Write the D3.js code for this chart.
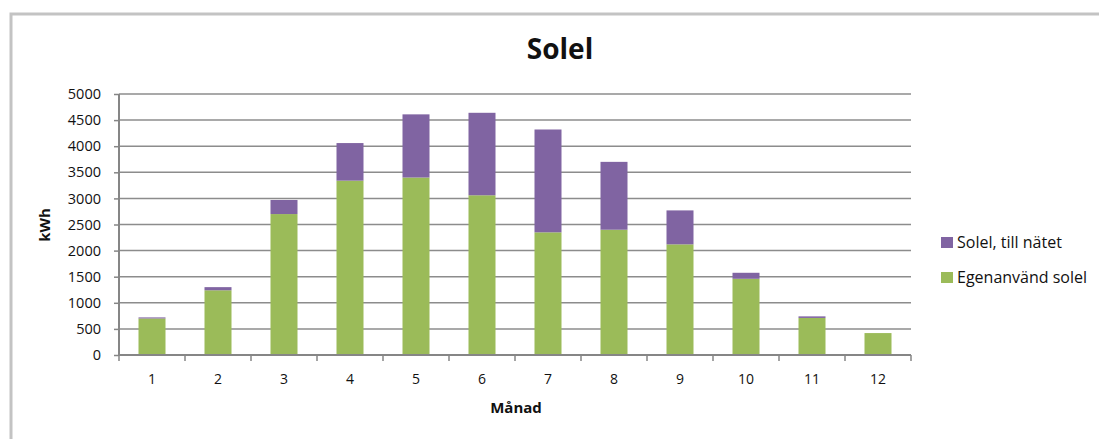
<!DOCTYPE html>
<html><head><meta charset="utf-8">
<script src="https://cdn.jsdelivr.net/npm/d3@7/dist/d3.min.js"></script>
<style>body{margin:0;background:#fff;font-family:"Open Sans",sans-serif;}</style>
</head><body><svg id="c" width="1099" height="439"></svg>
<script>
const months = ["1","2","3","4","5","6","7","8","9","10","11","12"];
const egenanvand = [700, 1240, 2700, 3340, 3400, 3060, 2350, 2400, 2120, 1460, 710, 420];
const tillNatet = [20, 60, 270, 720, 1210, 1580, 1970, 1300, 650, 115, 30, 0];
const yTicks = [0,500,1000,1500,2000,2500,3000,3500,4000,4500,5000];
const seriesNames = ["Egenanvänd solel", "Solel, till nätet"];
const colors = {"Egenanvänd solel":"#9bbb59", "Solel, till nätet":"#8064a2"};
const FF = "'Open Sans',sans-serif";

const svg = d3.select("#c");
// outer frame
svg.append("path").attr("d","M11,439 V14 H1099").attr("fill","none").attr("stroke","#c3c3c3").attr("stroke-width",3);

const pL=119, pR=911, pT=94, pB=355;
const xb = d3.scaleBand().domain(months).range([pL,pR]);
const y = d3.scaleLinear().domain([0,5000]).range([pB,pT]);

// gridlines
svg.append("g").selectAll("line").data(yTicks.slice(1)).join("line")
  .attr("x1",pL).attr("x2",pR).attr("y1",d=>y(d)).attr("y2",d=>y(d))
  .attr("stroke","#8c8c8c").attr("stroke-width",1.5);

const table = months.map((m,i)=>({m, "Egenanvänd solel":egenanvand[i], "Solel, till nätet":tillNatet[i]}));
const stack = d3.stack().keys(seriesNames)(table);
svg.append("g").selectAll("g").data(stack).join("g").attr("fill",d=>colors[d.key])
  .selectAll("rect").data(d=>d).join("rect")
  .attr("x",d=>xb(d.data.m)+xb.bandwidth()/2-13.5).attr("width",27)
  .attr("y",d=>y(d[1])).attr("height",d=>y(d[0])-y(d[1]));

// y axis
const ya = svg.append("g").attr("transform",`translate(${pL},0)`)
  .call(d3.axisLeft(y).tickValues(yTicks).tickFormat(d3.format("d")).tickSize(5).tickPadding(13));
ya.select(".domain").attr("stroke","#868686").attr("stroke-width",2).attr("d",`M0,${pT}V${pB}`);
ya.selectAll(".tick line").attr("stroke","#868686").attr("stroke-width",1.5);
ya.selectAll("text").attr("font-size",14.5).attr("fill","#111").attr("font-family",FF);

// x axis
const xa = svg.append("g").attr("transform",`translate(0,${pB})`)
  .call(d3.axisBottom(xb).tickSize(0).tickPadding(19));
xa.select(".domain").attr("stroke","#868686").attr("stroke-width",2).attr("d",`M${pL},0H${pR}`);
xa.selectAll("text").attr("font-size",14).attr("fill","#111").attr("font-family",FF);
const bounds = months.map(m=>xb(m)).concat([pR]);
svg.append("g").selectAll("line").data(bounds).join("line")
  .attr("x1",d=>d).attr("x2",d=>d).attr("y1",pB).attr("y2",pB+6)
  .attr("stroke","#868686").attr("stroke-width",1.5);

// title
svg.append("text").attr("x",560).attr("y",59).attr("text-anchor","middle").attr("font-family",FF)
  .attr("font-size",28).attr("font-weight","bold").attr("fill","#111").text("Solel");
// axis titles
svg.append("text").attr("x",516).attr("y",413).attr("text-anchor","middle").attr("font-family",FF)
  .attr("font-size",15).attr("font-weight","bold").attr("fill","#111").text("Månad");
svg.append("text").attr("transform","translate(50,225) rotate(-90)").attr("text-anchor","middle").attr("font-family",FF)
  .attr("font-size",15).attr("font-weight","bold").attr("fill","#111").text("kWh");

// legend
const leg = [{k:"Solel, till nätet",y:242},{k:"Egenanvänd solel",y:277}];
const lg = svg.append("g").selectAll("g").data(leg).join("g");
lg.append("rect").attr("x",941).attr("y",d=>d.y-5).attr("width",12).attr("height",11).attr("fill",d=>colors[d.k]);
lg.append("text").attr("x",957).attr("y",d=>d.y+6).attr("font-size",16).attr("font-family",FF).attr("fill","#111").text(d=>d.k);
</script></body></html>
